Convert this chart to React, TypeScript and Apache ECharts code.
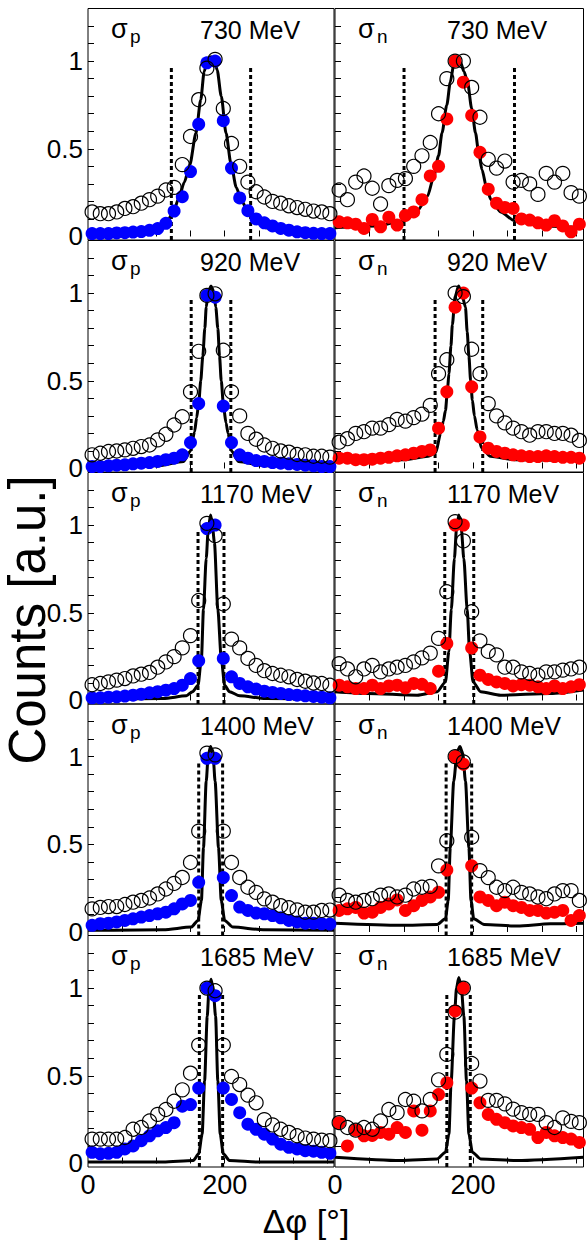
import React, { useEffect, useRef } from "react";
import * as echarts from "echarts";

// Azimuthal bin centres (12 degree bins)
const PHI_BINS = [6, 18, 30, 42, 54, 66, 78, 90, 102, 114, 126, 138, 150, 162, 174, 186, 198, 210, 222, 234, 246, 258, 270, 282, 294, 306, 318, 330, 342, 354];

const ENERGY_LABELS = ["730 MeV", "920 MeV", "1170 MeV", "1400 MeV", "1685 MeV"];
const Y_TICK_LABELS = [0, 0.5, 1];
const Y_MINOR_TICKS = [0.1, 0.2, 0.3, 0.4, 0.5, 0.6, 0.7, 0.8, 0.9, 1, 1.1, 1.2];
const X_TICK_LABELS = [0, 200];
const X_MINOR_TICKS = [50, 100, 150, 200, 250, 300, 350];

// ---- proton (sigma_p) ----
const P730_ALL = [0.14, 0.13, 0.13, 0.14, 0.16, 0.17, 0.19, 0.21, 0.23, 0.265, 0.28, 0.41, 0.57, 0.78, 0.96, 1.01, 0.73, 0.53, 0.4, 0.31, 0.255, 0.225, 0.2, 0.19, 0.175, 0.165, 0.155, 0.145, 0.14, 0.13];
const P730_SEL = [0.017, 0.017, 0.017, 0.02, 0.022, 0.025, 0.028, 0.035, 0.045, 0.075, 0.145, 0.227, 0.37, 0.64, 0.99, 1.0, 0.66, 0.39, 0.22, 0.147, 0.1, 0.078, 0.06, 0.046, 0.036, 0.027, 0.022, 0.018, 0.017, 0.017];
const P730_FIT = [[0, 0.015], [60, 0.02], [100, 0.04], [115, 0.08], [125, 0.14], [133, 0.22], [141, 0.31], [149, 0.41], [158, 0.59], [165, 0.78], [170, 0.94], [175, 1.01], [180, 1.025], [185, 1.01], [189, 0.95], [195, 0.8], [202, 0.59], [209, 0.42], [217, 0.28], [224, 0.21], [232, 0.16], [245, 0.09], [260, 0.05], [300, 0.025], [360, 0.015]];
const P730_CUT = [122, 238];

const P920_ALL = [0.078, 0.087, 0.097, 0.1, 0.106, 0.115, 0.125, 0.134, 0.163, 0.195, 0.248, 0.295, 0.437, 0.668, 0.987, 0.996, 0.674, 0.437, 0.3, 0.2, 0.167, 0.134, 0.115, 0.1, 0.093, 0.08, 0.078, 0.07, 0.07, 0.065];
const P920_SEL = [0.011, 0.011, 0.015, 0.019, 0.021, 0.027, 0.03, 0.034, 0.04, 0.05, 0.059, 0.078, 0.148, 0.37, 0.987, 0.977, 0.356, 0.148, 0.078, 0.059, 0.045, 0.04, 0.034, 0.03, 0.027, 0.023, 0.019, 0.015, 0.011, 0.011];
const P920_FIT = [[0, 0.01], [100, 0.015], [140, 0.04], [150, 0.1], [156, 0.21], [159, 0.29], [162, 0.37], [165, 0.5], [168, 0.64], [171, 0.8], [173, 0.92], [176, 1.01], [180, 1.04], [184, 1.01], [187, 0.92], [190, 0.8], [192.5, 0.64], [195, 0.5], [198.4, 0.35], [202, 0.26], [205, 0.2], [210, 0.1], [220, 0.04], [260, 0.015], [360, 0.01]];
const P920_CUT = [151, 209];

const P1170_ALL = [0.09, 0.097, 0.106, 0.116, 0.125, 0.14, 0.15, 0.16, 0.19, 0.22, 0.25, 0.3, 0.37, 0.57, 1.01, 0.94, 0.55, 0.35, 0.3, 0.24, 0.2, 0.17, 0.154, 0.144, 0.135, 0.12, 0.11, 0.1, 0.097, 0.087];
const P1170_SEL = [0.015, 0.015, 0.019, 0.021, 0.025, 0.03, 0.036, 0.044, 0.05, 0.059, 0.068, 0.087, 0.125, 0.226, 0.98, 1.0, 0.24, 0.135, 0.097, 0.078, 0.065, 0.053, 0.046, 0.04, 0.034, 0.03, 0.027, 0.023, 0.019, 0.015];
const P1170_FIT = [[0, 0.008], [37, 0.008], [110, 0.011], [144, 0.027], [153, 0.05], [161, 0.087], [166, 0.24], [169, 0.52], [173, 0.81], [176, 0.98], [179.4, 1.057], [182, 1.0], [185, 0.9], [190, 0.52], [195, 0.24], [200, 0.087], [207, 0.05], [222, 0.027], [260, 0.011], [360, 0.008]];
const P1170_CUT = [161, 199];

const P1400_ALL = [0.132, 0.14, 0.145, 0.145, 0.157, 0.17, 0.18, 0.194, 0.217, 0.245, 0.277, 0.311, 0.396, 0.575, 1.02, 1.01, 0.575, 0.396, 0.311, 0.255, 0.226, 0.189, 0.17, 0.15, 0.138, 0.126, 0.113, 0.113, 0.123, 0.125];
const P1400_SEL = [0.038, 0.047, 0.05, 0.057, 0.066, 0.075, 0.085, 0.094, 0.104, 0.113, 0.132, 0.16, 0.18, 0.283, 0.99, 0.99, 0.31, 0.208, 0.142, 0.123, 0.108, 0.104, 0.094, 0.081, 0.066, 0.057, 0.05, 0.05, 0.047, 0.045];
const P1400_FIT = [[0, 0.01], [37, 0.01], [110, 0.013], [151, 0.028], [161, 0.066], [166, 0.18], [169, 0.48], [173, 0.86], [176, 1.01], [179.4, 1.057], [183, 1.01], [186, 0.86], [191, 0.48], [195, 0.18], [200, 0.066], [212, 0.028], [256, 0.013], [360, 0.01]];
const P1400_CUT = [162, 197];

const P1685_ALL = [0.139, 0.139, 0.139, 0.139, 0.148, 0.195, 0.205, 0.242, 0.28, 0.308, 0.355, 0.42, 0.515, 0.675, 1.0, 0.985, 0.675, 0.496, 0.45, 0.39, 0.346, 0.25, 0.22, 0.195, 0.177, 0.158, 0.145, 0.139, 0.133, 0.13];
const P1685_SEL = [0.064, 0.055, 0.058, 0.064, 0.083, 0.1, 0.13, 0.158, 0.186, 0.205, 0.233, 0.327, 0.336, 0.43, 1.0, 0.957, 0.43, 0.365, 0.29, 0.224, 0.195, 0.167, 0.139, 0.11, 0.092, 0.083, 0.073, 0.07, 0.064, 0.058];
const P1685_FIT = [[0, 0.008], [110, 0.008], [154, 0.017], [162, 0.055], [167, 0.167], [170.6, 0.47], [174.5, 0.84], [177, 0.99], [180, 1.05], [183, 1.0], [186.7, 0.84], [190, 0.47], [193.5, 0.167], [198, 0.055], [207, 0.017], [250, 0.008], [360, 0.008]];
const P1685_CUT = [163, 197];

// ---- neutron (sigma_n) ----
const N730_ALL = [0.265, 0.21, 0.31, 0.345, 0.275, 0.185, 0.29, 0.32, 0.33, 0.4, 0.46, 0.536, 0.7, 0.9, 1.0, 1.0, 0.85, 0.68, 0.44, 0.39, 0.43, 0.31, 0.32, 0.3, 0.24, 0.36, 0.31, 0.36, 0.25, 0.23];
const N730_SEL = [0.084, 0.078, 0.07, 0.046, 0.097, 0.055, 0.11, 0.065, 0.12, 0.14, 0.21, 0.345, 0.4, 0.67, 1.0, 0.88, 0.69, 0.48, 0.27, 0.19, 0.166, 0.16, 0.1, 0.094, 0.078, 0.065, 0.09, 0.06, 0.027, 0.07];
const N730_FIT = [[0, 0.05], [60, 0.06], [100, 0.09], [120, 0.15], [134, 0.23], [143, 0.34], [150, 0.46], [155, 0.59], [162, 0.75], [167, 0.88], [172, 0.98], [177, 1.02], [182, 0.99], [187, 0.94], [192, 0.88], [198, 0.73], [203.6, 0.59], [208, 0.48], [213, 0.38], [220, 0.27], [226, 0.21], [240, 0.14], [260, 0.09], [300, 0.06], [360, 0.05]];
const N730_CUT = [100, 260];

const N920_ALL = [0.15, 0.17, 0.2, 0.21, 0.23, 0.23, 0.25, 0.28, 0.27, 0.29, 0.31, 0.36, 0.54, 0.62, 1.0, 0.98, 0.68, 0.54, 0.37, 0.3, 0.26, 0.23, 0.21, 0.19, 0.21, 0.21, 0.2, 0.2, 0.19, 0.16];
const N920_SEL = [0.059, 0.059, 0.05, 0.05, 0.053, 0.059, 0.064, 0.072, 0.078, 0.087, 0.097, 0.106, 0.23, 0.437, 0.92, 1.0, 0.466, 0.18, 0.116, 0.097, 0.087, 0.078, 0.072, 0.068, 0.068, 0.072, 0.068, 0.064, 0.064, 0.059];
const N920_FIT = [[0, 0.04], [100, 0.05], [135, 0.07], [146, 0.09], [153, 0.2], [157, 0.27], [160, 0.33], [163, 0.45], [165, 0.54], [168, 0.7], [170, 0.82], [174, 0.98], [179, 1.04], [184, 0.99], [189, 0.92], [191.5, 0.78], [194, 0.64], [196.5, 0.5], [199, 0.39], [202, 0.3], [206, 0.22], [212, 0.12], [225, 0.07], [260, 0.05], [360, 0.045]];
const N920_CUT = [145, 214];

const N1170_ALL = [0.21, 0.18, 0.135, 0.18, 0.2, 0.163, 0.18, 0.19, 0.2, 0.22, 0.243, 0.27, 0.354, 0.62, 1.02, 0.91, 0.506, 0.34, 0.28, 0.26, 0.19, 0.19, 0.163, 0.154, 0.144, 0.163, 0.163, 0.173, 0.18, 0.19];
const N1170_SEL = [0.087, 0.078, 0.068, 0.068, 0.087, 0.068, 0.083, 0.087, 0.072, 0.097, 0.092, 0.068, 0.167, 0.325, 1.0, 1.0, 0.3, 0.144, 0.12, 0.106, 0.097, 0.083, 0.09, 0.087, 0.078, 0.068, 0.083, 0.068, 0.078, 0.09];
const N1170_FIT = [[0, 0.05], [47, 0.04], [119, 0.03], [148, 0.05], [160, 0.106], [165, 0.28], [168.5, 0.52], [173, 0.81], [176, 0.98], [179.4, 1.057], [183, 0.98], [186.6, 0.81], [191.5, 0.52], [195, 0.28], [200, 0.106], [211, 0.05], [240, 0.03], [312, 0.04], [360, 0.06]];
const N1170_CUT = [159, 201];

const N1400_ALL = [0.21, 0.18, 0.17, 0.18, 0.19, 0.21, 0.217, 0.2, 0.21, 0.245, 0.255, 0.26, 0.377, 0.52, 1.0, 0.97, 0.54, 0.35, 0.31, 0.255, 0.236, 0.255, 0.226, 0.217, 0.2, 0.19, 0.217, 0.236, 0.236, 0.18];
const N1400_SEL = [0.123, 0.132, 0.14, 0.108, 0.113, 0.14, 0.16, 0.183, 0.123, 0.15, 0.18, 0.2, 0.226, 0.353, 1.0, 0.957, 0.377, 0.2, 0.18, 0.15, 0.17, 0.15, 0.14, 0.123, 0.123, 0.108, 0.113, 0.123, 0.066, 0.094];
const N1400_FIT = [[0, 0.05], [95, 0.038], [148, 0.043], [160, 0.075], [164, 0.18], [167, 0.48], [172, 0.86], [177, 1.03], [181, 1.057], [185, 1.02], [189, 0.86], [194, 0.48], [197, 0.18], [201, 0.075], [216, 0.043], [264, 0.034], [312, 0.047], [360, 0.05]];
const N1400_CUT = [161, 198];

const N1685_ALL = [0.233, 0.205, 0.19, 0.205, 0.195, 0.242, 0.308, 0.29, 0.365, 0.355, 0.3, 0.365, 0.477, 0.622, 0.863, 1.0, 0.57, 0.47, 0.36, 0.36, 0.34, 0.31, 0.29, 0.28, 0.28, 0.233, 0.205, 0.26, 0.24, 0.233];
const N1685_SEL = [0.233, 0.1, 0.19, 0.158, 0.16, 0.177, 0.167, 0.205, 0.177, 0.3, 0.19, 0.3, 0.393, 0.46, 0.87, 1.0, 0.43, 0.346, 0.28, 0.252, 0.233, 0.214, 0.205, 0.195, 0.148, 0.177, 0.158, 0.148, 0.139, 0.12];
const N1685_FIT = [[0, 0.036], [95, 0.017], [148, 0.026], [160, 0.064], [165, 0.167], [168.3, 0.47], [173, 0.84], [176, 1.0], [179.4, 1.06], [183, 1.0], [186.7, 0.84], [190.5, 0.47], [194, 0.167], [199, 0.064], [211, 0.026], [264, 0.017], [360, 0.036]];
const N1685_CUT = [162, 196];

const PROTON = [
  { all: P730_ALL, sel: P730_SEL, fit: P730_FIT, cut: P730_CUT },
  { all: P920_ALL, sel: P920_SEL, fit: P920_FIT, cut: P920_CUT },
  { all: P1170_ALL, sel: P1170_SEL, fit: P1170_FIT, cut: P1170_CUT },
  { all: P1400_ALL, sel: P1400_SEL, fit: P1400_FIT, cut: P1400_CUT },
  { all: P1685_ALL, sel: P1685_SEL, fit: P1685_FIT, cut: P1685_CUT },
];
const NEUTRON = [
  { all: N730_ALL, sel: N730_SEL, fit: N730_FIT, cut: N730_CUT },
  { all: N920_ALL, sel: N920_SEL, fit: N920_FIT, cut: N920_CUT },
  { all: N1170_ALL, sel: N1170_SEL, fit: N1170_FIT, cut: N1170_CUT },
  { all: N1400_ALL, sel: N1400_SEL, fit: N1400_FIT, cut: N1400_CUT },
  { all: N1685_ALL, sel: N1685_SEL, fit: N1685_FIT, cut: N1685_CUT },
];

// page layout (pixels)
const ROW_TOP = [8.5, 240.5, 472.5, 704, 935.5];
const ROW_H = 231.5;
const COL_LEFT = [88, 335];
const COL_W = [246, 248.5];
const Y_MIN = -0.02;
const Y_MAX = 1.3;
const CUT_TOP = 0.97;

const FONT = "'Liberation Sans', Arial, Helvetica, sans-serif";

function buildOption() {
  const grid: any[] = [];
  const xAxis: any[] = [];
  const yAxis: any[] = [];
  const series: any[] = [];
  const graphic: any[] = [];

  for (let r = 0; r < 5; r++) {
    for (let c = 0; c < 2; c++) {
      const idx = grid.length;
      const panel = c === 0 ? PROTON[r] : NEUTRON[r];
      const fill = c === 0 ? "#0000ff" : "#ff0000";
      grid.push({
        left: COL_LEFT[c],
        top: ROW_TOP[r],
        width: COL_W[c],
        height: ROW_H,
        show: true,
        borderColor: "#000",
        borderWidth: 1,
        backgroundColor: "transparent",
        containLabel: false,
      });
      xAxis.push({
        gridIndex: idx,
        type: "value",
        min: 0,
        max: 360,
        axisLine: { show: false },
        splitLine: { show: false },
        axisTick: {
          show: true,
          inside: true,
          length: 6,
          customValues: X_MINOR_TICKS,
          lineStyle: { color: "#000", width: 1 },
        },
        axisLabel: {
          show: r === 4,
          customValues: X_TICK_LABELS,
          fontSize: 27,
          fontFamily: FONT,
          color: "#000",
          margin: 4,
        },
      });
      yAxis.push({
        gridIndex: idx,
        type: "value",
        min: Y_MIN,
        max: Y_MAX,
        axisLine: { show: false },
        splitLine: { show: false },
        axisTick: {
          show: true,
          inside: true,
          length: 6,
          customValues: Y_MINOR_TICKS,
          lineStyle: { color: "#000", width: 1 },
        },
        axisLabel: {
          show: c === 0,
          customValues: Y_TICK_LABELS,
          formatter: (v: number) => String(v),
          fontSize: 26,
          fontFamily: FONT,
          color: "#000",
          margin: 5,
        },
      });

      // event-selection window
      panel.cut.forEach((x: number) => {
        series.push({
          type: "line",
          xAxisIndex: idx,
          yAxisIndex: idx,
          data: [[x, Y_MIN], [x, CUT_TOP]],
          symbol: "none",
          lineStyle: { color: "#000", width: 3, type: [4, 3] },
          z: 1,
          silent: true,
        });
      });
      // simulated line shape
      series.push({
        type: "line",
        xAxisIndex: idx,
        yAxisIndex: idx,
        data: panel.fit,
        symbol: "none",
        smooth: 0.25,
        smoothMonotone: "x",
        lineStyle: { color: "#000", width: 3 },
        z: 2,
        silent: true,
      });
      // after cuts
      series.push({
        type: "scatter",
        xAxisIndex: idx,
        yAxisIndex: idx,
        data: PHI_BINS.map((x, i) => [x, panel.sel[i]]),
        symbol: "circle",
        symbolSize: 13,
        itemStyle: { color: fill, opacity: 1 },
        z: 3,
        silent: true,
      });
      // before cuts
      series.push({
        type: "scatter",
        xAxisIndex: idx,
        yAxisIndex: idx,
        data: PHI_BINS.map((x, i) => [x, panel.all[i]]),
        symbol: "circle",
        symbolSize: 14,
        itemStyle: { color: "rgba(0,0,0,0)", borderColor: "#000", borderWidth: 1.2, opacity: 1 },
        z: 4,
        silent: true,
      });

      // panel labels
      const left = COL_LEFT[c];
      const top = ROW_TOP[r];
      graphic.push({
        type: "text",
        x: left + 23,
        y: top + 20.5,
        z: 10,
        style: { text: "σ", font: `27px ${FONT}`, fill: "#000", textVerticalAlign: "middle", textAlign: "left" },
      });
      graphic.push({
        type: "text",
        x: left + 42,
        y: top + 28,
        z: 10,
        style: { text: c === 0 ? "p" : "n", font: `19px ${FONT}`, fill: "#000", textVerticalAlign: "middle", textAlign: "left" },
      });
      graphic.push({
        type: "text",
        x: left + 112,
        y: top + 21.5,
        z: 10,
        style: { text: ENERGY_LABELS[r], font: `25px ${FONT}`, fill: "#000", textVerticalAlign: "middle", textAlign: "left" },
      });
    }
  }

  graphic.push({
    type: "text",
    x: 27,
    y: 620,
    rotation: Math.PI / 2,
    z: 10,
    style: { text: "Counts [a.u.]", font: `51px ${FONT}`, fill: "#000", textAlign: "center", textVerticalAlign: "middle" },
  });
  graphic.push({
    type: "text",
    x: 306,
    y: 1221,
    z: 10,
    style: { text: "Δφ [°]", font: `34px ${FONT}`, fill: "#000", textAlign: "center", textVerticalAlign: "middle" },
  });

  return {
    animation: false,
    backgroundColor: "#fff",
    grid,
    xAxis,
    yAxis,
    series,
    graphic,
  };
}

export default function App() {
  const ref = useRef<HTMLDivElement>(null);
  useEffect(() => {
    document.body.style.margin = "0";
    if (!ref.current) return;
    const chart = echarts.init(ref.current, undefined, { renderer: "svg" });
    chart.setOption(buildOption());
    return () => {
      chart.dispose();
    };
  }, []);
  return <div ref={ref} style={{ width: 587, height: 1240 }} />;
}
